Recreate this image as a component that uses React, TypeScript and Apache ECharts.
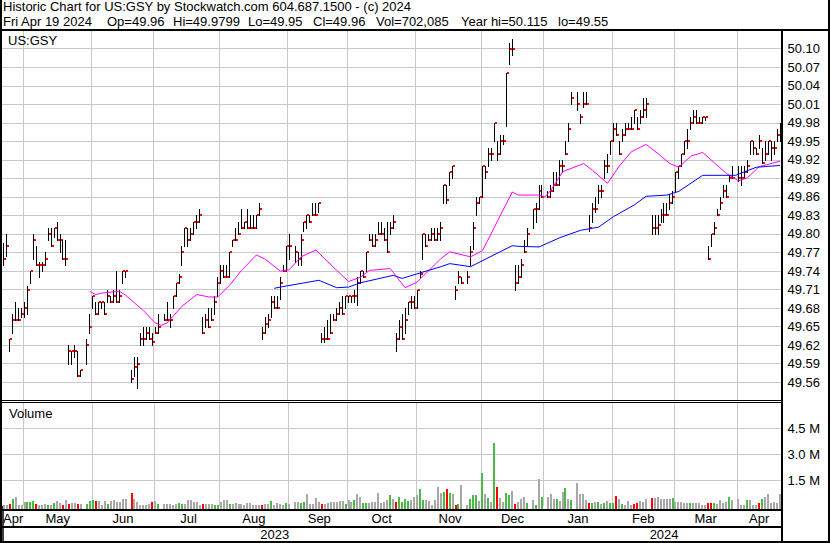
import React, { useEffect, useRef } from 'react';
import * as echarts from 'echarts';

// ---------- calendar (weekday slots; exchange holidays stay as empty slots) ----------
const FIRST_DAY = '2023-04-20';
const LAST_DAY = '2024-04-19';
const HOLIDAYS = [
  '2023-05-29', '2023-06-19', '2023-07-04', '2023-09-04', '2023-11-23',
  '2023-12-25', '2024-01-01', '2024-01-15', '2024-02-19', '2024-03-29',
];

// ---------- daily bars, one entry per trading day ----------
const HIGH = [
  49.785, 49.80, 49.63, 49.67, 49.69, 49.68, 49.68, 49.69, 49.715, 49.74,
  49.80, 49.78, 49.755, 49.755, 49.77, 49.81, 49.81, 49.81, 49.82, 49.80,
  49.79, 49.79, 49.62, 49.61, 49.62, 49.61, 49.58, 49.63, 49.67, 49.70,
  49.69, 49.69, 49.69, 49.69, 49.71, 49.70, 49.71, 49.74, 49.71, 49.74,
  49.74, 49.58, 49.60, 49.60, 49.64, 49.65, 49.65, 49.65, 49.64, 49.65,
  49.67, 49.67, 49.69, 49.67, 49.70, 49.72, 49.735, 49.78, 49.81, 49.81,
  49.81, 49.82, 49.83, 49.84, 49.665, 49.67, 49.68, 49.68, 49.70, 49.73,
  49.75, 49.75, 49.75, 49.77, 49.79, 49.81, 49.82, 49.84, 49.82, 49.84,
  49.83, 49.83, 49.83, 49.85, 49.65, 49.665, 49.67, 49.70, 49.70, 49.70,
  49.73, 49.75, 49.78, 49.80, 49.78, 49.77, 49.80, 49.82, 49.83, 49.83,
  49.85, 49.85, 49.85, 49.64, 49.65, 49.66, 49.67, 49.67, 49.68, 49.69,
  49.70, 49.70, 49.70, 49.70, 49.71, 49.73, 49.74, 49.74, 49.77, 49.80,
  49.80, 49.80, 49.82, 49.82, 49.81, 49.82, 49.82, 49.83, 49.64, 49.66,
  49.67, 49.68, 49.69, 49.70, 49.70, 49.71, 49.74, 49.80, 49.80, 49.80,
  49.81, 49.81, 49.81, 49.82, 49.88, 49.88, 49.90, 49.91, 49.715, 49.74,
  49.73, 49.74, 49.78, 49.82, 49.86, 49.86, 49.91, 49.91, 49.94, 49.94,
  49.98, 49.95, 49.96, 49.96, 50.06, 50.11, 50.115, 49.75, 49.75, 49.76,
  49.79, 49.81, 49.84, 49.85, 49.88, 49.88, 49.87, 49.88, 49.90, 49.90,
  49.92, 49.92, 49.95, 49.98, 50.03, 50.03, 49.995, 50.03, 50.03, 49.83,
  49.85, 49.86, 49.88, 49.88, 49.92, 49.93, 49.95, 49.98, 49.98, 49.95,
  49.97, 49.98, 49.98, 49.99, 50.00, 49.99, 50.00, 50.02, 50.02, 49.83,
  49.83, 49.83, 49.84, 49.85, 49.85, 49.865, 49.87, 49.90, 49.91, 49.93,
  49.95, 49.97, 49.99, 50.00, 50.00, 49.99, 49.99, 49.99, 49.78, 49.80,
  49.82, 49.84, 49.86, 49.88, 49.88, 49.895, 49.91, 49.91, 49.91, 49.91,
  49.92, 49.95, 49.95, 49.94, 49.96, 49.94, 49.95, 49.95, 49.95, 49.95,
  49.97, 49.98,
];
const LOW = [
  49.75, 49.765, 49.61, 49.64, 49.66, 49.66, 49.665, 49.665, 49.67, 49.72,
  49.76, 49.75, 49.73, 49.74, 49.75, 49.79, 49.78, 49.795, 49.79, 49.77,
  49.76, 49.75, 49.59, 49.59, 49.60, 49.57, 49.57, 49.59, 49.64, 49.68,
  49.67, 49.67, 49.68, 49.67, 49.69, 49.69, 49.69, 49.69, 49.69, 49.72,
  49.73, 49.56, 49.57, 49.55, 49.62, 49.62, 49.63, 49.63, 49.62, 49.64,
  49.64, 49.66, 49.66, 49.65, 49.68, 49.70, 49.72, 49.75, 49.78, 49.78,
  49.79, 49.80, 49.81, 49.82, 49.64, 49.65, 49.65, 49.66, 49.67, 49.70,
  49.72, 49.73, 49.73, 49.73, 49.78, 49.79, 49.80, 49.81, 49.81, 49.81,
  49.81, 49.81, 49.81, 49.83, 49.63, 49.64, 49.65, 49.665, 49.68, 49.68,
  49.695, 49.74, 49.74, 49.76, 49.755, 49.75, 49.75, 49.805, 49.81, 49.82,
  49.83, 49.83, 49.835, 49.625, 49.625, 49.63, 49.64, 49.66, 49.66, 49.67,
  49.67, 49.68, 49.69, 49.69, 49.69, 49.685, 49.72, 49.73, 49.74, 49.79,
  49.78, 49.78, 49.80, 49.80, 49.79, 49.77, 49.80, 49.81, 49.61, 49.63,
  49.63, 49.64, 49.67, 49.68, 49.68, 49.68, 49.73, 49.76, 49.78, 49.79,
  49.79, 49.79, 49.79, 49.79, 49.85, 49.85, 49.88, 49.89, 49.695, 49.72,
  49.72, 49.72, 49.75, 49.775, 49.83, 49.85, 49.86, 49.89, 49.91, 49.92,
  49.95, 49.92, 49.93, 49.945, 49.975, 50.075, 50.09, 49.71, 49.72, 49.73,
  49.77, 49.78, 49.81, 49.82, 49.84, 49.86, 49.86, 49.86, 49.87, 49.88,
  49.88, 49.90, 49.93, 49.95, 50.01, 50.00, 49.98, 50.005, 50.01, 49.805,
  49.82, 49.835, 49.85, 49.86, 49.89, 49.90, 49.93, 49.95, 49.96, 49.93,
  49.95, 49.96, 49.97, 49.97, 49.98, 49.97, 49.98, 49.99, 49.99, 49.80,
  49.80, 49.80, 49.82, 49.82, 49.83, 49.84, 49.85, 49.87, 49.89, 49.91,
  49.93, 49.94, 49.97, 49.98, 49.98, 49.98, 49.98, 49.985, 49.76, 49.78,
  49.80, 49.83, 49.84, 49.86, 49.86, 49.885, 49.89, 49.885, 49.88, 49.89,
  49.90, 49.93, 49.93, 49.93, 49.94, 49.915, 49.92, 49.93, 49.92, 49.93,
  49.95, 49.95,
];
const CLOSE = [
  49.76, 49.78, 49.63, 49.66, 49.66, 49.66, 49.67, 49.68, 49.71, 49.74,
  49.79, 49.75, 49.75, 49.75, 49.76, 49.80, 49.78, 49.81, 49.79, 49.79,
  49.76, 49.76, 49.61, 49.61, 49.61, 49.57, 49.58, 49.62, 49.65, 49.70,
  49.67, 49.69, 49.69, 49.67, 49.70, 49.69, 49.70, 49.69, 49.70, 49.74,
  49.74, 49.565, 49.585, 49.59, 49.63, 49.63, 49.64, 49.63, 49.625, 49.64,
  49.65, 49.66, 49.66, 49.66, 49.70, 49.72, 49.73, 49.77, 49.81, 49.79,
  49.80, 49.82, 49.82, 49.83, 49.64, 49.66, 49.65, 49.66, 49.69, 49.72,
  49.74, 49.73, 49.73, 49.77, 49.79, 49.79, 49.80, 49.81, 49.82, 49.81,
  49.81, 49.81, 49.83, 49.84, 49.64, 49.655, 49.66, 49.69, 49.68, 49.68,
  49.72, 49.74, 49.78, 49.78, 49.77, 49.76, 49.79, 49.82, 49.83, 49.82,
  49.83, 49.83, 49.85, 49.63, 49.63, 49.63, 49.64, 49.66, 49.67, 49.68,
  49.67, 49.70, 49.70, 49.70, 49.70, 49.72, 49.74, 49.73, 49.77, 49.79,
  49.78, 49.79, 49.80, 49.80, 49.79, 49.77, 49.81, 49.82, 49.63, 49.65,
  49.63, 49.66, 49.69, 49.69, 49.68, 49.71, 49.735, 49.80, 49.78, 49.79,
  49.80, 49.79, 49.80, 49.81, 49.88, 49.855, 49.90, 49.91, 49.71, 49.73,
  49.72, 49.73, 49.77, 49.81, 49.85, 49.86, 49.91, 49.90, 49.93, 49.93,
  49.98, 49.93, 49.95, 49.95, 50.06, 50.10, 50.10, 49.72, 49.73, 49.75,
  49.77, 49.80, 49.84, 49.84, 49.87, 49.86, 49.86, 49.87, 49.88, 49.88,
  49.91, 49.91, 49.93, 49.97, 50.02, 50.01, 49.99, 50.01, 50.01, 49.81,
  49.84, 49.84, 49.87, 49.87, 49.91, 49.91, 49.95, 49.97, 49.96, 49.93,
  49.96, 49.97, 49.97, 49.97, 50.00, 49.97, 49.99, 50.00, 50.01, 49.81,
  49.81, 49.815, 49.83, 49.83, 49.83, 49.85, 49.86, 49.90, 49.91, 49.93,
  49.95, 49.95, 49.98, 49.99, 49.98, 49.98, 49.99, 49.99, 49.76, 49.80,
  49.81, 49.83, 49.85, 49.87, 49.86, 49.89, 49.89, 49.89, 49.89, 49.90,
  49.91, 49.95, 49.94, 49.93, 49.95, 49.915, 49.93, 49.95, 49.94, 49.94,
  49.96, 49.96,
];

// volume in millions of shares, one per trading day
const VOLUME_M = [
  0.06, 0.05, 0.12, 0.38, 0.54, 0.05, 0.06, 0.25, 0.25, 0.21,
  0.29, 0.12, 0.05, 0.06, 0.12, 0.06, 0.05, 0.15, 0.29, 0.15,
  0.05, 0.35, 0.12, 0.15, 0.15, 0.12, 0.12, 0.12, 0.29, 0.35,
  0.29, 0.29, 0.06, 0.29, 0.12, 0.29, 0.35, 0.25, 0.25, 0.38,
  0.40, 0.73, 0.40, 0.25, 0.06, 0.06, 0.06, 0.12, 0.25, 0.29,
  0.12, 0.12, 0.12, 0.12, 0.06, 0.12, 0.15, 0.12, 0.12, 0.35,
  0.35, 0.25, 0.25, 0.06, 0.10, 0.12, 0.12, 0.12, 0.06, 0.06,
  0.25, 0.35, 0.35, 0.12, 0.12, 0.15, 0.12, 0.12, 0.06, 0.15,
  0.15, 0.06, 0.06, 0.06, 0.06, 0.12, 0.12, 0.29, 0.06, 0.15,
  0.12, 0.06, 0.15, 0.10, 0.25, 0.25, 0.15, 0.21, 0.69, 0.12,
  0.12, 0.44, 0.25, 0.12, 0.12, 0.15, 0.21, 0.21, 0.21, 0.29,
  0.29, 0.12, 0.35, 0.25, 0.35, 0.69, 0.54, 0.15, 0.15, 0.15,
  0.25, 0.25, 0.73, 0.15, 0.25, 0.35, 0.63, 0.40, 0.25, 0.54,
  0.25, 0.40, 0.29, 0.35, 0.54, 0.63, 0.96, 0.35, 0.35, 0.29,
  0.06, 0.35, 1.08, 0.77, 0.83, 0.96, 0.73, 0.67, 0.06, 0.12,
  1.21, 0.04, 0.40, 0.63, 0.63, 0.29, 1.92, 0.67, 0.44, 0.25,
  3.65, 1.10, 0.44, 0.25, 0.73, 0.63, 0.88, 0.12, 0.25, 0.40,
  0.54, 0.15, 0.35, 0.06, 1.56, 0.54, 0.54, 0.67, 0.38, 0.40,
  0.29, 0.83, 1.02, 0.38, 0.35, 1.31, 0.67, 0.67, 0.35, 0.15,
  0.15, 0.21, 0.25, 0.12, 0.15, 0.29, 0.15, 0.15, 0.58, 0.38,
  0.10, 0.06, 0.29, 0.06, 0.12, 0.15, 0.29, 0.21, 0.40, 0.44,
  0.48, 0.54, 0.40, 0.38, 0.38, 0.40, 0.44, 0.25, 0.25, 0.21,
  0.15, 0.15, 0.15, 0.15, 0.15, 0.15, 0.06, 0.06, 0.15, 0.15,
  0.15, 0.12, 0.35, 0.15, 0.25, 0.54, 0.35, 0.40, 0.05, 0.05,
  0.35, 0.35, 0.05, 0.06, 0.15, 0.40, 0.54, 0.67, 0.15, 0.25,
  0.15, 0.70,
];
// volume bar colour per trading day: g = up, r = down, n = unchanged
const VOLUME_DIR =
  'nnrgnnnngg' + 'grnnngngnn' + 'rnrnnrn' +
  'gggrnnngnnnnnn' +
  'rnnnnnnrng' +
  'nnnnnggnnnnnn' +
  'rnnnggnnngnnnnnnnnnn' +
  'rnngnnnngn' +
  'nnggnnnnn' +
  'rnnnnnnngn' + 'ngnnggnnnn' + 'nnngn' +
  'rggggnnngg' + 'nnnnnngrgn' + 'rgn' +
  'ngggngngng' + 'rnnggnrnnn' + 'g' +
  'ngng' +
  'nnngnngng' +
  'nnnnrgngng' + 'nggrngnnnr' + 'rnnn' +
  'rnnnnnngnn' + 'nnngnnn' +
  'nnrrgnnnngn' +
  'nnngnnnrgn' + 'nnnnn';

// moving averages as drawn: [weekday slot, value]
const MA_PINK: [number, number][] = [
  [29, 49.707], [31, 49.702], [34, 49.705], [39, 49.707], [41, 49.701], [47, 49.676],
  [51, 49.656], [53, 49.652], [55, 49.656], [60, 49.683], [65, 49.702], [69, 49.698],
  [72, 49.698], [76, 49.717], [80, 49.741], [85, 49.766], [88, 49.759], [93, 49.740],
  [96, 49.742], [100, 49.763], [105, 49.774], [112, 49.741], [116, 49.723], [120, 49.730],
  [123, 49.741], [130, 49.744], [135, 49.713], [139, 49.722], [147, 49.760], [150, 49.771],
  [157, 49.763], [161, 49.773], [171, 49.868], [173, 49.863], [180, 49.863], [182, 49.860],
  [184, 49.871], [188, 49.901], [195, 49.914], [198, 49.903], [203, 49.882], [207, 49.910],
  [211, 49.933], [216, 49.945], [220, 49.930], [224, 49.914], [227, 49.908], [231, 49.926],
  [235, 49.932], [243, 49.898], [247, 49.886], [250, 49.891], [254, 49.909], [258, 49.914],
  [261, 49.918],
];
const MA_BLUE: [number, number][] = [
  [91, 49.712], [93, 49.714], [106, 49.725], [112, 49.713], [116, 49.714], [120, 49.721],
  [131, 49.733], [134, 49.728], [138, 49.734], [147, 49.747], [150, 49.752], [157, 49.747],
  [171, 49.781], [173, 49.780], [180, 49.779], [187, 49.794], [194, 49.806], [200, 49.811],
  [205, 49.828], [212, 49.847], [216, 49.861], [223, 49.863], [227, 49.869], [235, 49.895],
  [246, 49.895], [253, 49.908], [261, 49.911],
];

// axis scales
const PRICE_MIN = 49.53;
const PRICE_MAX = 50.13;
const PRICE_STEP = 0.03;
const VOL_MIN = 0;
const VOL_MAX = 6;
const VOL_STEP = 1.5;
const MONTH_NAMES = ['Jan', 'Feb', 'Mar', 'Apr', 'May', 'Jun', 'Jul', 'Aug', 'Sep', 'Oct', 'Nov', 'Dec'];

// texts
const TITLE = 'Historic Chart for US:GSY by Stockwatch.com 604.687.1500 - (c) 2024';
const QUOTE_PARTS = ['Fri Apr 19 2024', 'Op=49.96', 'Hi=49.9799', 'Lo=49.95', 'Cl=49.96', 'Vol=702,085', 'Year hi=50.115', 'lo=49.55'];
const QUOTE_X = [3, 107, 173, 248, 313, 376, 461, 558]; // layout: left edge of each header field
const SYMBOL = 'US:GSY';
const VOLUME_TITLE = 'Volume';

// ---------- helpers ----------
function weekdaySlots(a: string, b: string): string[] {
  const out: string[] = [];
  const d = new Date(a + 'T00:00:00Z');
  const e = new Date(b + 'T00:00:00Z');
  while (d.getTime() <= e.getTime()) {
    const w = d.getUTCDay();
    if (w !== 0 && w !== 6) out.push(d.toISOString().slice(0, 10));
    d.setUTCDate(d.getUTCDate() + 1);
  }
  return out;
}

const FONT = '"Liberation Sans", Arial, Helvetica, sans-serif';
const GRID_COLOR = '#c8c8c8';
const UP = '#4cb848';
const DOWN = '#ff0000';
const FLAT = '#a8a8a8';

function buildOption() {
  const slots = weekdaySlots(FIRST_DAY, LAST_DAY);
  const hol = new Set(HOLIDAYS);
  const tradeSlots: number[] = [];
  slots.forEach((d, i) => { if (!hol.has(d)) tradeSlots.push(i); });

  // month boundaries: last weekday on or before the 1st
  const monthB: number[] = [];
  const yearB: number[] = [];
  for (let i = 1; i < slots.length; i++) {
    if (slots[i].slice(0, 7) !== slots[i - 1].slice(0, 7)) {
      const b = slots[i].slice(8) === '01' ? i : i - 1;
      monthB.push(b);
      if (slots[i].slice(0, 4) !== slots[i - 1].slice(0, 4)) yearB.push(b);
    }
  }
  const monthSet = new Set(monthB);
  const yearSet = new Set(yearB);
  const monthLabel = new Map<number, string>();
  const mSegs = [0, ...monthB, slots.length];
  for (let k = 0; k < mSegs.length - 1; k++) {
    const mid = Math.round((mSegs[k] + mSegs[k + 1] - 1) / 2);
    monthLabel.set(mid, MONTH_NAMES[+slots[mid].slice(5, 7) - 1]);
  }
  const yearLabel = new Map<number, string>();
  const ySegs = [0, ...yearB, slots.length];
  for (let k = 0; k < ySegs.length - 1; k++) {
    const mid = Math.round((ySegs[k] + ySegs[k + 1] - 1) / 2);
    yearLabel.set(mid, slots[mid].slice(0, 4));
  }

  const n = Math.min(tradeSlots.length, HIGH.length, LOW.length, CLOSE.length);
  const barData: number[][] = [];
  for (let t = 0; t < n; t++) barData.push([tradeSlots[t], HIGH[t], LOW[t], CLOSE[t]]);
  const volData: number[][] = [];
  for (let t = 0; t < Math.min(tradeSlots.length, VOLUME_M.length); t++) {
    const c = VOLUME_DIR[t];
    volData.push([tradeSlots[t], VOLUME_M[t], c === 'g' ? 1 : c === 'r' ? -1 : 0]);
  }

  const gridLeft = 2;
  const gridWidth = 779.5;

  const black = (x: number, y: number, w: number, h: number) => ({
    type: 'rect', z: 100, silent: true, shape: { x, y, width: w, height: h }, style: { fill: '#000' },
  });
  const txt = (x: number, y: number, text: string) => ({
    type: 'text', z: 101, silent: true, x, y,
    style: { text, fill: '#000', font: `13px ${FONT}`, lineHeight: 12, verticalAlign: 'middle', align: 'left' },
  });

  const quoteTexts = QUOTE_PARTS.map((p, i) => txt(QUOTE_X[i], 21.3, p));

  return {
    animation: false,
    backgroundColor: '#fff',
    textStyle: { fontFamily: FONT },
    grid: [
      { left: gridLeft, top: 30.2, width: gridWidth, height: 370.5, show: false },
      { left: gridLeft, top: 402.5, width: gridWidth, height: 103.5, show: false },
    ],
    xAxis: [
      {
        gridIndex: 0, type: 'category', data: slots, boundaryGap: true,
        axisLine: { show: false }, axisTick: { show: false }, axisLabel: { show: false },
        splitLine: { show: true, interval: (i: number) => monthSet.has(i), lineStyle: { color: GRID_COLOR, width: 1 } },
      },
      {
        gridIndex: 1, type: 'category', data: slots, boundaryGap: true, position: 'bottom',
        axisLine: { show: false }, axisTick: { show: false },
        axisLabel: {
          show: true, interval: (i: number) => monthLabel.has(i),
          formatter: (_v: string, i: number) => monthLabel.get(i) || '',
          margin: 5.5, color: '#000', fontSize: 13, fontFamily: FONT,
        },
        splitLine: { show: true, interval: (i: number) => monthSet.has(i), lineStyle: { color: GRID_COLOR, width: 1 } },
      },
      {
        gridIndex: 1, type: 'category', data: slots, boundaryGap: true, position: 'bottom',
        axisLine: { show: false },
        axisTick: { show: true, interval: (i: number) => yearSet.has(i), length: 35, lineStyle: { color: '#000', width: 1.5 } },
        axisLabel: {
          show: true, interval: (i: number) => yearLabel.has(i),
          formatter: (_v: string, i: number) => yearLabel.get(i) || '',
          margin: 21.8, color: '#000', fontSize: 13, fontFamily: FONT,
        },
        splitLine: { show: false },
      },
    ],
    yAxis: [
      {
        gridIndex: 0, type: 'value', position: 'right', min: PRICE_MIN, max: PRICE_MAX, interval: PRICE_STEP,
        axisLine: { show: false }, axisTick: { show: false },
        axisLabel: {
          showMinLabel: false, showMaxLabel: false, margin: 6, color: '#000', fontSize: 13, fontFamily: FONT,
          formatter: (v: number) => v.toFixed(2),
        },
        splitLine: { show: true, showMinLine: false, showMaxLine: false, lineStyle: { color: GRID_COLOR, width: 1 } },
      },
      {
        gridIndex: 1, type: 'value', position: 'right', min: VOL_MIN, max: VOL_MAX, interval: VOL_STEP,
        axisLine: { show: false }, axisTick: { show: false },
        axisLabel: {
          showMinLabel: false, showMaxLabel: false, margin: 6, color: '#000', fontSize: 13, fontFamily: FONT,
          formatter: (v: number) => v.toFixed(1) + ' M',
        },
        splitLine: { show: true, showMinLine: false, showMaxLine: false, lineStyle: { color: GRID_COLOR, width: 1 } },
      },
    ],
    series: [
      {
        type: 'custom', name: 'price', xAxisIndex: 0, yAxisIndex: 0, z: 2, silent: true,
        dimensions: ['slot', 'high', 'low', 'close'],
        encode: { x: 0, y: [1, 2, 3] },
        data: barData,
        renderItem: (_p: any, api: any) => {
          const s = api.value(0);
          const hi = api.coord([s, api.value(1)]);
          const lo = api.coord([s, api.value(2)]);
          const cl = api.coord([s, api.value(3)]);
          const x = Math.floor(hi[0]);
          const yTop = Math.round(hi[1]);
          const yBot = Math.max(Math.round(lo[1]), yTop + 1);
          const yC = Math.round(cl[1]);
          return {
            type: 'group',
            children: [
              { type: 'rect', shape: { x, y: yTop, width: 1, height: yBot - yTop + 1 }, style: { fill: '#000' } },
              { type: 'rect', shape: { x: x + 1, y: yC - 1, width: 2, height: 2 }, style: { fill: '#ff0000' } },
            ],
          };
        },
      },
      {
        type: 'line', name: 'ma short', xAxisIndex: 0, yAxisIndex: 0, z: 3, silent: true,
        data: MA_PINK, symbol: 'none', showSymbol: false,
        lineStyle: { color: '#ff00ff', width: 1 },
      },
      {
        type: 'line', name: 'ma long', xAxisIndex: 0, yAxisIndex: 0, z: 3, silent: true,
        data: MA_BLUE, symbol: 'none', showSymbol: false,
        lineStyle: { color: '#0000ff', width: 1 },
      },
      {
        type: 'custom', name: 'volume', xAxisIndex: 1, yAxisIndex: 1, z: 2, silent: true, clip: false,
        dimensions: ['slot', 'vol', 'dir'],
        encode: { x: 0, y: 1 },
        data: volData,
        renderItem: (_p: any, api: any) => {
          const s = api.value(0);
          const top = api.coord([s, api.value(1)]);
          const base = api.coord([s, 0]);
          const x = Math.floor(top[0]);
          const yTop = Math.round(top[1]);
          const yBot = Math.round(base[1]) + 3;
          const d = api.value(2);
          return {
            type: 'rect',
            shape: { x: x - 1, y: yTop, width: 2, height: Math.max(1, yBot - yTop) },
            style: { fill: d > 0 ? UP : d < 0 ? DOWN : FLAT },
          };
        },
      },
    ],
    graphic: [
      black(0, 0, 2, 543),
      black(828, 0, 2, 543),
      black(0, 541, 830, 2),
      black(0, 29, 830, 2),
      black(781, 29, 2, 514),
      black(0, 400, 782, 1),
      black(0, 402, 782, 1),
      black(0, 509, 782, 2),
      black(0, 526, 782, 2),
      txt(3, 6.5, TITLE),
      ...quoteTexts,
      txt(8, 40.8, SYMBOL),
      txt(9, 413.3, VOLUME_TITLE),
    ],
  };
}

export default function App() {
  const ref = useRef<HTMLDivElement>(null);
  useEffect(() => {
    if (!ref.current) return;
    const chart = echarts.init(ref.current, null, { renderer: 'svg' });
    chart.setOption(buildOption() as any);
    return () => chart.dispose();
  }, []);
  return (
    <div
      ref={ref}
      style={{ position: 'absolute', left: 0, top: 0, width: 830, height: 543, background: '#fff' }}
    />
  );
}
